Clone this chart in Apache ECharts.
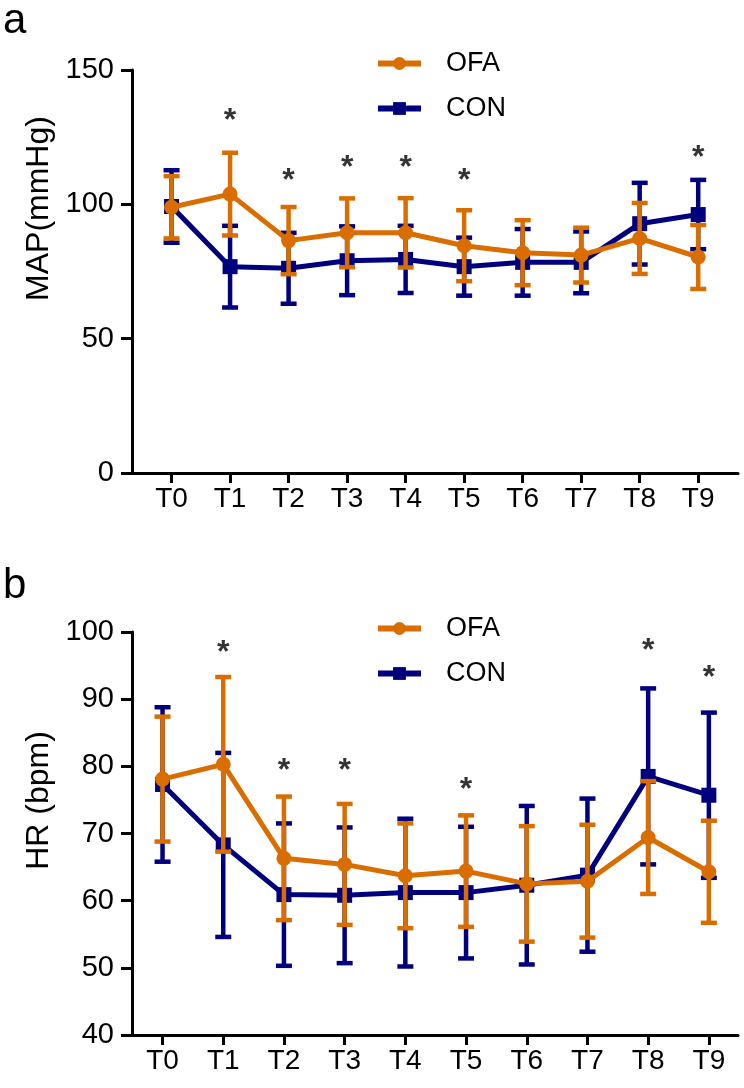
<!DOCTYPE html>
<html>
<head>
<meta charset="utf-8">
<script src="https://cdn.jsdelivr.net/npm/echarts@6/dist/echarts.min.js"></script>
<style>
html,body{margin:0;padding:0;background:#fff;}
#c{width:744px;height:1088px;}
</style>
</head>
<body>
<div id="c"></div>
<script>
// ---- data ----
const categories = ['T0','T1','T2','T3','T4','T5','T6','T7','T8','T9'];
const seriesNames = ['OFA','CON'];

// Panel a: MAP (mmHg), mean and SD
const mapOFA   = [98.9, 103.8, 86.5, 89.4, 89.4, 84.6, 82.0, 81.1, 87.3, 80.4];
const mapOFAsd = [11.6, 15.4, 12.5, 12.8, 12.9, 13.2, 12.1, 10.2, 13.2, 11.9];
const mapCON   = [99.2, 76.8, 76.2, 79.0, 79.5, 76.8, 78.4, 78.4, 92.8, 96.2];
const mapCONsd = [13.5, 15.2, 13.2, 12.8, 12.5, 10.8, 12.4, 11.5, 15.2, 12.9];
const mapStars = [null, 134, 111.6, 116.5, 116.5, 111.6, null, null, null, 120.2];
const mapTicks = [0, 50, 100, 150];

// Panel b: HR (bpm), mean and SD
const hrOFA   = [78.1, 80.3, 66.3, 65.4, 63.7, 64.4, 62.5, 62.9, 69.4, 64.3];
const hrOFAsd = [9.3, 13.0, 9.2, 9.0, 7.8, 8.3, 8.6, 8.4, 8.4, 7.6];
const hrCON   = [77.3, 68.3, 60.9, 60.8, 61.2, 61.2, 62.3, 63.8, 78.5, 75.7];
const hrCONsd = [11.5, 13.7, 10.6, 10.1, 11.0, 9.8, 11.8, 11.4, 13.1, 12.3];
const hrStars = [null, 98.1, 80.4, 80.4, null, 77.7, null, null, 98.3, 94.3];
const hrTicks = [40, 50, 60, 70, 80, 90, 100];

// ---- styling ----
const ORANGE = '#D96D00';
const NAVY = '#00007F';
const FONT = 'Liberation Sans, Arial, sans-serif';
const idx = categories.map((c, i) => i);

function pts(arr){ return arr.map((v,i)=>[i, v]); }
function errData(m, s){ return m.map((v,i)=>[i, v - s[i], v + s[i]]); }
function starData(arr){ return arr.map((v,i)=> v == null ? null : [i, v]).filter(d => d); }

function errSeries(name, m, s, color, gi, z){
  return {
    type:'custom', name: name + ' SD', xAxisIndex: gi, yAxisIndex: gi, z: z,
    data: errData(m, s),
    silent: true,
    renderItem: function(params, api){
      const x = api.value(0);
      const lo = api.coord([x, api.value(1)]);
      const hi = api.coord([x, api.value(2)]);
      const hw = 8;
      const st = {stroke: color, lineWidth: 4.5};
      return {type:'group', children:[
        {type:'line', shape:{x1:hi[0], y1:hi[1], x2:lo[0], y2:lo[1]}, style: st},
        {type:'line', shape:{x1:hi[0]-hw, y1:hi[1], x2:hi[0]+hw, y2:hi[1]}, style: st},
        {type:'line', shape:{x1:lo[0]-hw, y1:lo[1], x2:lo[0]+hw, y2:lo[1]}, style: st}
      ]};
    }
  };
}
function lineSeries(name, m, color, symbol, gi, z){
  return {
    type:'line', name: name, xAxisIndex: gi, yAxisIndex: gi, z: z,
    data: pts(m), symbol: symbol, symbolSize: 15, showSymbol: true,
    lineStyle:{color: color, width: 5}, itemStyle:{color: color},
    emphasis:{disabled:true}, animation:false
  };
}
function starSeries(arr, gi){
  return {
    type:'scatter', xAxisIndex: gi, yAxisIndex: gi, z: 10,
    data: starData(arr), symbolSize: 1, itemStyle:{color:'rgba(0,0,0,0)'},
    label:{show:true, formatter:'*', position:'inside', fontSize:32, fontWeight:'bold', color:'#000',
           textBorderWidth:0, textBorderColor:'transparent', fontFamily: FONT, offset:[0,8]},
    silent:true
  };
}
function xAxisDef(gi, min, max){
  return {
    type:'value', gridIndex: gi, min: min, max: max,
    axisLine:{show:true, onZero:false, lineStyle:{color:'#000', width:3}},
    axisTick:{show:true, customValues: idx, length:10, lineStyle:{color:'#000', width:3}},
    axisLabel:{show:true, customValues: idx, formatter: v => categories[Math.round(v)], color:'#000', fontSize:28, fontFamily: FONT, margin:12},
    splitLine:{show:false}
  };
}
function yAxisDef(gi, ticks, name, pad){
  return {
    type:'value', gridIndex: gi, min: ticks[0], max: ticks[ticks.length-1], interval: ticks[1]-ticks[0],
    name: name, nameLocation:'middle', nameGap: 72,
    nameTextStyle:{color:'#000', fontSize:32, fontFamily: FONT, padding:[0,0,0,pad]},
    axisLine:{show:true, onZero:false, lineStyle:{color:'#000', width:3}},
    axisTick:{show:true, length:11, lineStyle:{color:'#000', width:3}},
    axisLabel:{color:'#000', fontSize:29, fontFamily: FONT, margin:18},
    splitLine:{show:false}
  };
}
function legendDef(top){
  return {
    data: seriesNames, orient:'vertical', left: 370, top: top,
    itemWidth: 43, itemHeight: 16, itemGap: 18,
    lineStyle:{width: 6},
    textStyle:{color:'#000', fontSize:27, fontFamily: FONT, padding:[0,0,0,20]},
    selectedMode: false
  };
}

const chart = echarts.init(document.getElementById('c'), null, {renderer:'canvas'});
chart.setOption({
  animation:false,
  backgroundColor:'#fff',
  textStyle:{fontFamily: FONT},
  graphic:[
    {type:'text', left: 3, top: 0, style:{text:'a', fontSize:42, fontFamily: FONT, fill:'#000'}},
    {type:'text', left: 3, top: 565, style:{text:'b', fontSize:42, fontFamily: FONT, fill:'#000'}}
  ],
  legend:[ legendDef(45), legendDef(610) ],
  grid:[
    {left:132, top:70, width:606, height:403},
    {left:132, top:632, width:606, height:403}
  ],
  xAxis:[ xAxisDef(0, -0.676, 9.68), xAxisDef(1, -0.503, 9.48) ],
  yAxis:[ yAxisDef(0, mapTicks, 'MAP(mmHg)', 126), yAxisDef(1, hrTicks, 'HR (bpm)', 66) ],
  series:[
    errSeries('CON', mapCON, mapCONsd, NAVY, 0, 2),
    lineSeries('CON', mapCON, NAVY, 'rect', 0, 3),
    errSeries('OFA', mapOFA, mapOFAsd, ORANGE, 0, 4),
    lineSeries('OFA', mapOFA, ORANGE, 'circle', 0, 5),
    starSeries(mapStars, 0),
    errSeries('CON', hrCON, hrCONsd, NAVY, 1, 2),
    lineSeries('CON', hrCON, NAVY, 'rect', 1, 3),
    errSeries('OFA', hrOFA, hrOFAsd, ORANGE, 1, 4),
    lineSeries('OFA', hrOFA, ORANGE, 'circle', 1, 5),
    starSeries(hrStars, 1)
  ]
});
</script>
</body>
</html>
